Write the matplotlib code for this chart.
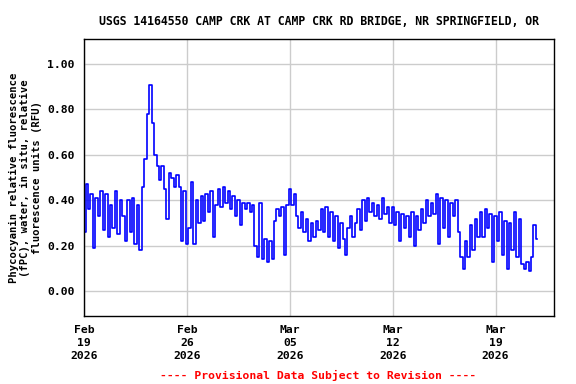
import numpy as np
import matplotlib
matplotlib.use('Agg')
import matplotlib.pyplot as plt
import matplotlib.dates as mdates

# phycocyanin (RFU), 4-hour steps starting Feb 19 2026 00:00
fpc_by_day = [
    [0.26, 0.47, 0.36, 0.43, 0.19, 0.41],
    [0.33, 0.44, 0.27, 0.43, 0.24, 0.38],
    [0.28, 0.44, 0.25, 0.40, 0.33, 0.22],
    [0.40, 0.26, 0.41, 0.21, 0.38, 0.18],
    [0.46, 0.58, 0.78, 0.91, 0.74, 0.60],
    [0.55, 0.49, 0.55, 0.45, 0.32, 0.52],
    [0.50, 0.46, 0.51, 0.46, 0.22, 0.44],
    [0.21, 0.28, 0.48, 0.21, 0.40, 0.30],
    [0.42, 0.31, 0.43, 0.35, 0.44, 0.24],
    [0.38, 0.45, 0.37, 0.46, 0.39, 0.44],
    [0.36, 0.42, 0.33, 0.40, 0.29, 0.39],
    [0.36, 0.39, 0.35, 0.38, 0.20, 0.15],
    [0.39, 0.14, 0.23, 0.13, 0.22, 0.14],
    [0.31, 0.36, 0.33, 0.37, 0.16, 0.38],
    [0.45, 0.38, 0.43, 0.33, 0.28, 0.35],
    [0.26, 0.32, 0.22, 0.30, 0.24, 0.31],
    [0.27, 0.36, 0.26, 0.37, 0.24, 0.35],
    [0.22, 0.33, 0.19, 0.30, 0.23, 0.16],
    [0.28, 0.33, 0.24, 0.30, 0.36, 0.27],
    [0.40, 0.31, 0.41, 0.35, 0.39, 0.33],
    [0.38, 0.32, 0.41, 0.34, 0.37, 0.30],
    [0.37, 0.29, 0.35, 0.22, 0.34, 0.28],
    [0.33, 0.24, 0.35, 0.20, 0.33, 0.27],
    [0.36, 0.30, 0.40, 0.33, 0.39, 0.34],
    [0.43, 0.21, 0.41, 0.28, 0.40, 0.24],
    [0.39, 0.33, 0.40, 0.26, 0.15, 0.10],
    [0.22, 0.15, 0.29, 0.18, 0.32, 0.24],
    [0.35, 0.24, 0.36, 0.28, 0.34, 0.13],
    [0.33, 0.22, 0.35, 0.16, 0.31, 0.10],
    [0.30, 0.18, 0.35, 0.15, 0.32, 0.12],
    [0.10, 0.13, 0.09, 0.15, 0.29, 0.23],
]
fpc = [v for day in fpc_by_day for v in day]
start = np.datetime64('2026-02-19T00:00')
times = start + np.arange(len(fpc)) * np.timedelta64(4, 'h')

yticks = [0.0, 0.2, 0.4, 0.6, 0.8, 1.0]
xticks = ['2026-02-19', '2026-02-26', '2026-03-05', '2026-03-12', '2026-03-19']

title = 'USGS 14164550 CAMP CRK AT CAMP CRK RD BRIDGE, NR SPRINGFIELD, OR'
ylabel = ('Phycocyanin relative fluorescence\n'
          '(fPC), water, in situ, relative\n'
          'fluorescence units (RFU)')
footer = '---- Provisional Data Subject to Revision ----'

mono = 'DejaVu Sans Mono'

fig = plt.figure(figsize=(5.76, 3.84), dpi=100)
ax = fig.add_axes([84.3 / 576, 1 - 316 / 384, (554.3 - 84.3) / 576, (316 - 39.3) / 384])

ax.plot(times, fpc, color='#0000ff', lw=1.2, drawstyle='steps-mid')

ax.set_ylim(-0.109, 1.109)
ax.set_xlim(np.datetime64('2026-02-19T00:00'), np.datetime64('2026-03-23T00:00'))

ax.set_yticks(yticks)
ax.set_yticklabels(['%.2f' % t for t in yticks])
ax.set_xticks([np.datetime64(d) for d in xticks])
ax.xaxis.set_major_formatter(mdates.DateFormatter('%b\n%d\n%Y'))

ax.grid(True, color='#cccccc', lw=1.0)
ax.set_axisbelow(True)
ax.tick_params(length=0, labelsize=8.2)
ax.tick_params(axis='x', pad=6.5)
ax.tick_params(axis='y', pad=7)
for lbl in ax.get_xticklabels() + ax.get_yticklabels():
    lbl.set_fontfamily(mono)
    lbl.set_fontweight('bold')
for lbl in ax.get_xticklabels():
    lbl.set_linespacing(1.36)
for s in ax.spines.values():
    s.set_linewidth(1.0)
    s.set_color('black')

fig.text(319.3 / 576, 1 - 21.5 / 384, title, ha='center', va='center',
         fontsize=8.3, fontfamily=mono, fontweight='bold')
fig.text(25.3 / 576, 1 - 177.7 / 384, ylabel, ha='center', va='center',
         rotation=90, multialignment='center', linespacing=1.2,
         fontsize=7.6, fontfamily=mono, fontweight='bold')
fig.text(318 / 576, 1 - 375 / 384, footer, ha='center', va='center',
         fontsize=8.2, fontfamily=mono, fontweight='bold', color='red')

fig.savefig('out.png', dpi=100)
